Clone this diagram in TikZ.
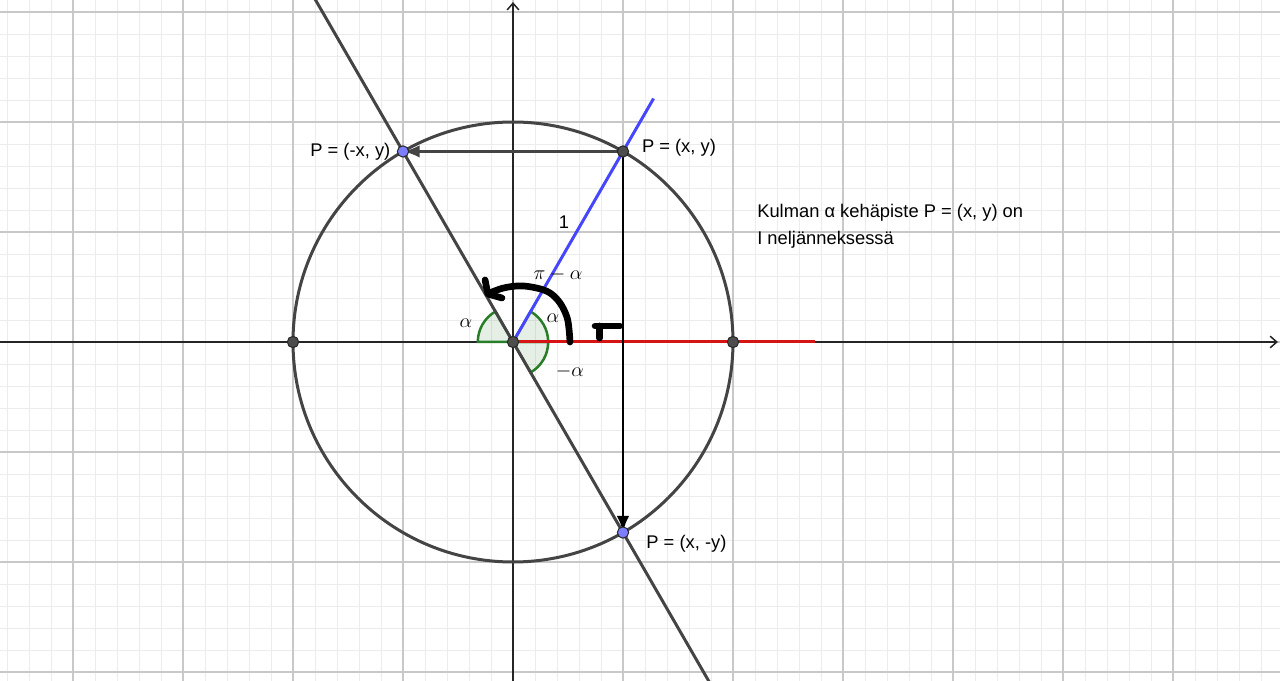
\documentclass[tikz,border=0pt]{standalone}
\usepackage{fontspec}
\setmainfont{Liberation Sans}
\usetikzlibrary{arrows.meta}

\definecolor{ggline}{RGB}{68,68,68}
\definecolor{ggaxis}{RGB}{37,37,37}
\definecolor{ggmajor}{RGB}{200,200,200}
\definecolor{ggminor}{RGB}{236,236,236}
\definecolor{ggblue}{RGB}{70,70,255}
\definecolor{ggred}{RGB}{215,20,20}
\definecolor{gggreen}{RGB}{40,125,40}
\definecolor{ggpoint}{RGB}{77,77,77}
\definecolor{ggfree}{RGB}{125,125,255}

\tikzset{
    pointdark/.style={circle, draw=black!85, line width=0.6pt, fill=ggpoint, inner sep=0pt, minimum size=6.8pt},
    pointblue/.style={pointdark, fill=ggfree},
    vec/.style={line width=1.7pt, -{Latex[length=10pt,width=7.5pt]}},
    anglesector/.style={draw=gggreen, line width=1.5pt, fill=gggreen, fill opacity=0.12},
    hand/.style={line width=4pt, line cap=round, line join=round},
    lbl/.style={inner sep=0pt, font=\fontsize{11}{16.2}\selectfont},
    mlbl/.style={inner sep=0pt, font=\fontsize{12.5}{15}\selectfont}
}

\begin{document}
\begin{tikzpicture}[x=132pt,y=132pt]
    \useasboundingbox (-2.3318,-1.5409) rectangle (3.4864,1.5545);
    \clip (-2.3318,-1.5409) rectangle (3.4864,1.5545);

    % Grid
    \draw[ggminor, line width=0.5pt, step=0.1] (-2.4,-1.6) grid (3.5,1.6);
    \draw[ggmajor, line width=0.9pt, step=0.5] (-2.4,-1.6) grid (3.5,1.6);

    % Points
    \coordinate (O) at (0,0);
    \coordinate (P) at (60:1);
    \coordinate (Pl) at (120:1);
    \coordinate (Pd) at (-60:1);
    \coordinate (A) at (1,0);
    \coordinate (B) at (-1,0);
    \coordinate (xL) at (-2.34,0);
    \coordinate (xR) at (3.477,0);
    \coordinate (yB) at (0,-1.55);
    \coordinate (yT) at (0,1.545);
    \coordinate (lineTop) at (120:1.85);
    \coordinate (lineBot) at (-60:1.85);
    \coordinate (blueEnd) at (60:1.278);
    \coordinate (redEnd) at (1.373,0);

    % Axes
    \draw[ggaxis, line width=0.9pt, -{Straight Barb[length=4pt,width=7pt]}] (xL) -- (xR);
    \draw[ggaxis, line width=0.9pt, -{Straight Barb[length=4pt,width=7pt]}] (yB) -- (yT);

    % Angles
    \draw[anglesector] (O) -- (0.16,0) arc (0:60:0.16) -- cycle;
    \draw[anglesector] (O) -- (0.16,0) arc (0:-60:0.16) -- cycle;
    \draw[anglesector] (O) -- (-0.16,0) arc (180:120:0.16) -- cycle;

    % Unit circle and lines
    \draw[ggline, line width=1.8pt] (O) circle (1);
    \draw[ggline, line width=1.8pt] (lineTop) -- (lineBot);
    \draw[ggblue, line width=1.8pt] (O) -- (blueEnd);
    \draw[ggred, line width=1.8pt] (O) -- (redEnd);

    % Vectors
    \draw[vec, ggline] (P) -- (Pl);
    \draw[vec, black] (P) -- (Pd);

    % Hand drawn arrow
    \draw[hand] plot[smooth, tension=0.6] coordinates {(0.259,0) (0.255,0.055) (0.245,0.114) (0.214,0.177) (0.168,0.223) (0.109,0.245) (0.032,0.255) (-0.045,0.245) (-0.105,0.223)};
    \draw[hand] (-0.127,0.282) -- (-0.114,0.218) -- (-0.05,0.2);
    \draw[hand] (0.373,0.073) -- (0.486,0.073);
    \draw[hand] (0.393,0.073) -- (0.393,0.018);

    \node[pointdark] (mO) at (O) {};
    \node[pointdark] (mP) at (P) {};
    \node[pointdark] (mA) at (A) {};
    \node[pointdark] (mB) at (B) {};
    \node[pointblue] (mPl) at (Pl) {};
    \node[pointblue] (mPd) at (Pd) {};

    % Labels
    \node[lbl, anchor=west] (lP) at (0.585,0.882) {P = (x, y)};
    \node[lbl, anchor=east] (lPl) at (-0.556,0.864) {P = (-x, y)};
    \node[lbl, anchor=west] (lPd) at (0.605,-0.918) {P = (x, -y)};
    \node[lbl] (lone) at (0.232,0.545) {1};
    \node[mlbl] (lpa) at (0.205,0.305) {$\pi-\alpha$};
    \node[mlbl] (la1) at (-0.214,0.086) {$\alpha$};
    \node[mlbl] (la2) at (0.182,0.109) {$\alpha$};
    \node[mlbl] (la3) at (0.259,-0.136) {$-\alpha$};
    \node[lbl, anchor=west, align=left] (info) at (1.109,0.525) {Kulman α kehäpiste P = (x, y) on\\I neljänneksessä};

\end{tikzpicture}
\end{document}
